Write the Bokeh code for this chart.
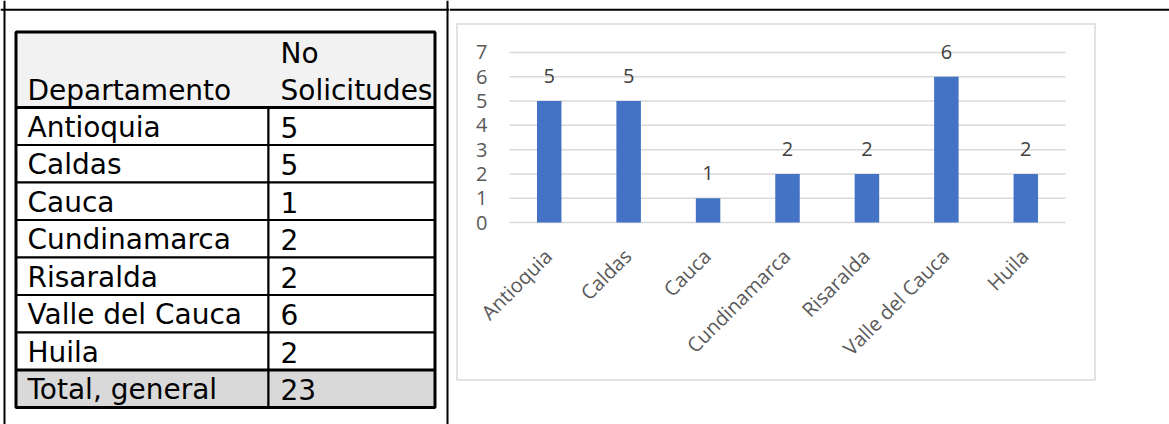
import numpy as np
from bokeh.plotting import figure
from bokeh.models import Range1d, Span, ColumnDataSource
from bokeh.layouts import row
from bokeh.core.properties import value
from bokeh.embed import file_html
from bokeh.resources import INLINE

# ---------------- data ----------------
departamentos = ["Antioquia", "Caldas", "Cauca", "Cundinamarca",
                 "Risaralda", "Valle del Cauca", "Huila"]
solicitudes = [5, 5, 1, 2, 2, 6, 2]
header_dep = "Departamento"
header_num = ["No", "Solicitudes"]
total_label = "Total, general"
total_value = 23
y_ticks = [0, 1, 2, 3, 4, 5, 6, 7]

# ---------------- table figure ----------------
TW, TH = 449, 424          # covers page x 0..449
RH = 37.5                  # row height in px
ROW0 = 107                 # page y of first data row top


def ty(page_y):
    return (page_y - ROW0) / RH


t = figure(width=TW, height=TH, title=None,
           x_range=Range1d(0, TW),
           y_range=Range1d(ty(TH), ty(0)),
           x_axis_type=None, y_axis_type=None,
           toolbar_location=None, output_backend="svg", min_border=0)
t.outline_line_color = None
t.background_fill_color = "white"
t.border_fill_color = "white"

TL, TM, TR = 15.5, 268, 434.5
TTOP = ty(31.5)
FONT_T = value("DejaVu Sans")
FS_T = "28px"

n = len(departamentos)
rows_top = list(range(n + 1))
src = ColumnDataSource(dict(
    top=rows_top,
    bottom=[r + 1 for r in rows_top],
    mid=[r + 0.53 for r in rows_top],
    lab=departamentos + [total_label],
    val=[str(v) for v in solicitudes] + [str(total_value)],
    fill=["white"] * n + ["#d9d9d9"],
))

# header background
t.quad(left=TL, right=TR, top=TTOP, bottom=0, fill_color="#f2f2f2", line_color=None)
# body cells
t.quad(left=TL, right=TM, top="top", bottom="bottom", fill_color="fill",
       line_color="black", line_width=2, source=src)
t.quad(left=TM, right=TR, top="top", bottom="bottom", fill_color="fill",
       line_color="black", line_width=2, source=src)
# thicker separators
t.segment(x0=TL, x1=TR, y0=[0, n], y1=[0, n], line_color="black", line_width=3)
# outer table border
t.quad(left=TL, right=TR, top=TTOP, bottom=n + 1, fill_color=None,
       line_color="black", line_width=3)

# texts
t.text(x=27, y="mid", text="lab", source=src, text_font=FONT_T,
       text_font_size=FS_T, text_baseline="middle", text_color="black")
t.text(x=280, y="mid", text="val", source=src, text_font=FONT_T,
       text_font_size=FS_T, text_baseline="middle", text_color="black")
t.text(x=[27, 280, 280], y=[ty(90), ty(53), ty(90)],
       text=[header_dep] + header_num, text_font=FONT_T,
       text_font_size=FS_T, text_baseline="middle", text_color="black")

# outer document-table lines
t.add_layout(Span(location=4, dimension="height", line_color="black", line_width=2))
t.add_layout(Span(location=447, dimension="height", line_color="black", line_width=2))
t.add_layout(Span(location=ty(9.25), dimension="width", line_color="black", line_width=2))

# ---------------- chart figure ----------------
CW, CH = 720, 424          # covers page x 449..1169
CX0 = 449
PXX = 79.43                # px per category
PXY = 24.29                # px per unit
xs = -0.5 - (509 - CX0) / PXX
ye = 222 / PXY


def cx(page_x):
    return xs + (page_x - CX0) / PXX


def cy(page_y):
    return ye - page_y / PXY


c = figure(width=CW, height=CH, title=None,
           x_range=Range1d(xs, xs + CW / PXX),
           y_range=Range1d(ye - CH / PXY, ye),
           x_axis_type=None, y_axis_type=None,
           toolbar_location=None, output_backend="svg", min_border=0)
c.outline_line_color = None
c.background_fill_color = "white"
c.border_fill_color = "white"

FONT_C = value("Open Sans")
FS_C = "20px"
idx = list(range(len(departamentos)))

# chart area box
c.quad(left=cx(456.5), right=cx(1094.5), top=cy(23.5), bottom=cy(379.5),
       fill_color=None, line_color="#d9d9d9", line_width=1.5)

# gridlines
c.segment(x0=-0.5, x1=len(departamentos) - 0.5, y0=y_ticks, y1=y_ticks,
          line_color="#d9d9d9", line_width=1.5)

# y tick labels
c.text(x=-0.5 - 22 / PXX, y=y_ticks, text=[str(v) for v in y_ticks],
       text_align="right", text_baseline="middle", text_font=FONT_C,
       text_font_size=FS_C, text_color="#595959")

# bars
c.vbar(x=idx, top=solicitudes, bottom=0, width=24.5 / PXX,
       fill_color="#4472C4", line_color=None)

# data labels
c.text(x=idx, y=solicitudes, text=[str(v) for v in solicitudes], y_offset=-25,
       text_align="center", text_baseline="middle", text_font=FONT_C,
       text_font_size=FS_C, text_color="#404040")

# category labels (rotated)
c.text(x=[i - 1 / PXX for i in idx], y=cy(252), text=departamentos,
       angle=np.pi / 4, text_align="right", text_baseline="middle",
       text_font=FONT_C, text_font_size=FS_C, text_color="#595959")

# top document-table line continues across
c.add_layout(Span(location=cy(9.25), dimension="width", line_color="black", line_width=2))

layout = row(t, c)
open("out.html", "w").write(file_html(layout, INLINE))
